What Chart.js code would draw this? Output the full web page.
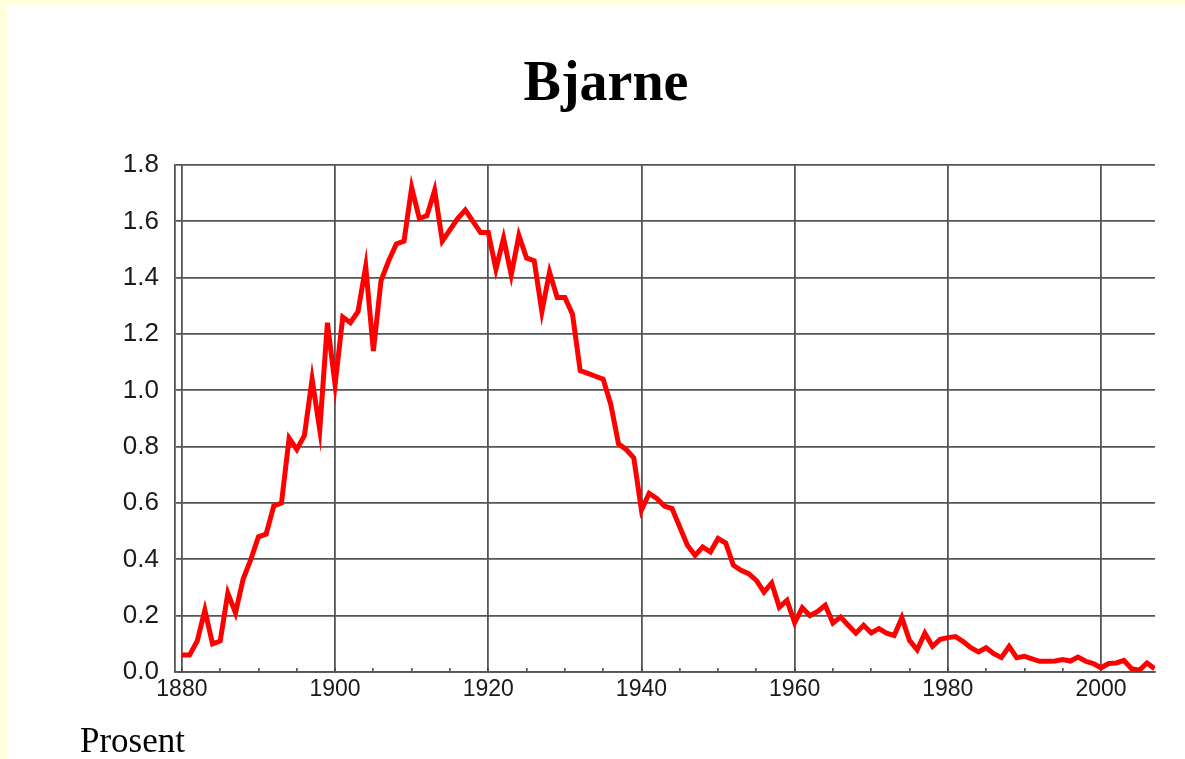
<!DOCTYPE html>
<html>
<head>
<meta charset="utf-8">
<script src="https://cdn.jsdelivr.net/npm/chart.js@4"></script>
<style>
  html, body { margin: 0; padding: 0; background: #ffffdd; }
  #box { position: absolute; left: 7px; top: 5px; width: 1178px; height: 754px; background: #fff; }
</style>
</head>
<body>
<div id="box"><canvas id="chart" width="1178" height="754"></canvas></div>
<script>
const chartTitle = 'Bjarne';
const unitLabel = 'Prosent';
const firstYear = 1880;
// share of population named Bjarne, per year from 1880 to 2007
const percent = [
  0.06, 0.06, 0.11, 0.22, 0.10, 0.11, 0.28, 0.21, 0.33, 0.40,
  0.48, 0.49, 0.59, 0.60, 0.83, 0.79, 0.84, 1.04, 0.86, 1.24,
  1.02, 1.26, 1.24, 1.28, 1.44, 1.14, 1.39, 1.46, 1.52, 1.53,
  1.72, 1.61, 1.62, 1.71, 1.53, 1.57, 1.61, 1.64, 1.60, 1.56,
  1.56, 1.43, 1.54, 1.41, 1.55, 1.47, 1.46, 1.28, 1.42, 1.33,
  1.33, 1.27, 1.07, 1.06, 1.05, 1.04, 0.95, 0.81, 0.79, 0.76,
  0.575, 0.634, 0.616, 0.589, 0.58, 0.515, 0.45, 0.414, 0.444, 0.426,
  0.474, 0.458, 0.379, 0.361, 0.349, 0.325, 0.284, 0.316, 0.23, 0.254,
  0.175, 0.228, 0.2, 0.215, 0.237, 0.174, 0.195, 0.166, 0.138, 0.166,
  0.139, 0.154, 0.138, 0.13, 0.193, 0.112, 0.079, 0.138, 0.091, 0.116,
  0.122, 0.126, 0.108, 0.086, 0.071, 0.086, 0.065, 0.051, 0.091, 0.051,
  0.056, 0.047, 0.038, 0.038, 0.039, 0.044, 0.039, 0.053, 0.038, 0.03,
  0.015, 0.03, 0.032, 0.041, 0.012, 0.006, 0.032, 0.012
];
const xMajor = [1880, 1900, 1920, 1940, 1960, 1980, 2000];
const xMinor = [1885, 1890, 1895, 1905, 1910, 1915, 1925, 1930, 1935, 1945, 1950, 1955,
  1965, 1970, 1975, 1985, 1990, 1995, 2005];

const points = percent.map((v, i) => ({ x: firstYear + i, y: v }));
const gridColor = '#555';

const textPlugin = {
  id: 'texts',
  afterDraw(chart) {
    const ctx = chart.ctx;
    ctx.save();
    ctx.fillStyle = '#000';
    ctx.textBaseline = 'alphabetic';
    ctx.textAlign = 'center';
    ctx.font = 'bold 56px "Liberation Serif"';
    ctx.fillText(chartTitle, 599, 95);
    ctx.textAlign = 'left';
    ctx.font = '35px "Liberation Serif"';
    ctx.fillText(unitLabel, 73, 747);
    ctx.restore();
  }
};

new Chart(document.getElementById('chart'), {
  type: 'line',
  data: {
    datasets: [{
      data: points,
      borderColor: '#ff0000',
      borderWidth: 5,
      borderJoinStyle: 'miter',
      pointRadius: 0,
      tension: 0
    }]
  },
  options: {
    responsive: false,
    animation: false,
    layout: { padding: { top: 160, right: 30, left: 0, bottom: 0 } },
    plugins: {
      legend: { display: false },
      title: { display: false },
      tooltip: { enabled: false }
    },
    scales: {
      x: {
        type: 'linear',
        min: 1879.1,
        max: 2007.05,
        afterBuildTicks: (scale) => {
          scale.ticks = xMajor.concat(xMinor).sort((a, b) => a - b).map(v => ({ value: v }));
        },
        afterFit: (scale) => { scale.height = 87; },
        grid: {
          color: (c) => (c.tick && xMajor.includes(c.tick.value)) ? gridColor : 'rgba(0,0,0,0)',
          lineWidth: 1.8,
          drawTicks: true,
          tickLength: -4,
          tickColor: '#444',
          tickWidth: 1.5
        },
        border: { color: gridColor, width: 1.8 },
        ticks: {
          autoSkip: false,
          maxRotation: 0,
          padding: 8,
          color: '#1a1a1a',
          font: { family: '"Liberation Sans"', size: 23 },
          callback: (v) => xMajor.includes(v) ? String(v) : ''
        }
      },
      y: {
        min: 0,
        max: 1.8,
        afterFit: (scale) => { scale.width = 168; },
        grid: { color: gridColor, lineWidth: 1.8, drawTicks: false },
        border: { color: gridColor, width: 1.8 },
        ticks: {
          stepSize: 0.2,
          padding: 16,
          color: '#1a1a1a',
          font: { family: '"Liberation Sans"', size: 26 },
          callback: (v) => v.toFixed(1)
        }
      }
    }
  },
  plugins: [textPlugin]
});
</script>
</body>
</html>
